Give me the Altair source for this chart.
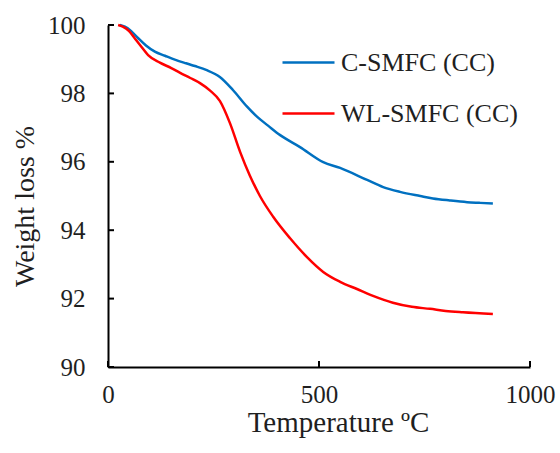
import altair as alt
import pandas as pd

# TGA curves: temperature (°C) vs remaining weight (%)
c_temp = [28, 40, 55, 71, 90, 111, 135, 160, 185, 206, 234, 265, 296, 329, 353, 380, 408,
          455, 510, 550, 614, 652, 692, 740, 770, 810, 851, 880, 912]
c_weight = [100.0, 99.95, 99.82, 99.62, 99.4, 99.22, 99.1, 98.98, 98.88, 98.8, 98.68, 98.48,
            98.1, 97.62, 97.32, 97.05, 96.78, 96.43, 95.99, 95.82, 95.47, 95.26, 95.12, 95.0,
            94.93, 94.87, 94.82, 94.8, 94.78]

w_temp = [24, 35, 50, 64, 80, 95, 123, 150, 171, 195, 218, 242, 265, 289, 313, 336, 360, 391,
          431, 471, 510, 550, 590, 628, 675, 720, 763, 800, 841, 912]
w_weight = [100.0, 99.95, 99.82, 99.6, 99.35, 99.12, 98.9, 98.74, 98.6, 98.45, 98.3, 98.08,
            97.78, 97.13, 96.29, 95.6, 95.0, 94.4, 93.77, 93.22, 92.78, 92.49, 92.28, 92.08,
            91.88, 91.76, 91.7, 91.64, 91.6, 91.55]

series_names = ["C-SMFC (CC)", "WL-SMFC (CC)"]
series_colors = ["#0070C0", "#FF0000"]

x_ticks = [0, 500, 1000]
y_ticks = [90, 92, 94, 96, 98, 100]

FONT = "Liberation Serif"
W, H = 422, 342
TEXT = "#1f1f1f"

df = pd.concat([
    pd.DataFrame({"temp": c_temp, "weight": c_weight, "series": series_names[0], "order": range(len(c_temp))}),
    pd.DataFrame({"temp": w_temp, "weight": w_weight, "series": series_names[1], "order": range(len(w_temp))}),
])

x_scale = alt.Scale(domain=[0, 1000], nice=False)
y_scale = alt.Scale(domain=[90, 100], nice=False, zero=False)

lines = alt.Chart(df).mark_line(strokeWidth=2.5, interpolate="monotone").encode(
    x=alt.X("temp:Q", scale=x_scale,
            axis=alt.Axis(values=x_ticks, format="d", ticks=False, grid=False, labelFlush=False,
                          domainColor="black", domainWidth=2,
                          labelFont=FONT, labelFontSize=25, labelColor=TEXT, labelPadding=15,
                          title="Temperature ºC", titleFont=FONT, titleFontSize=29, titleFontWeight="normal",
                          titleColor=TEXT, titleX=230, titleY=64, titleBaseline="alphabetic",
                          titleAnchor="middle")),
    y=alt.Y("weight:Q", scale=y_scale,
            axis=alt.Axis(values=y_ticks, ticks=False, grid=False, domainColor="black", domainWidth=2,
                          labelFont=FONT, labelFontSize=25, labelColor=TEXT, labelPadding=23,
                          title="Weight loss %", titleFont=FONT, titleFontSize=28, titleFontWeight="normal",
                          titleColor=TEXT, titleX=-75, titleY=181, titleBaseline="alphabetic",
                          titleAngle=-90, titleAnchor="middle")),
    color=alt.Color("series:N", scale=alt.Scale(domain=series_names, range=series_colors),
                    legend=alt.Legend(title=None, orient="none", legendX=173, legendY=10,
                                      symbolType="stroke", symbolSize=2704, symbolStrokeWidth=2.5,
                                      labelFont=FONT, labelFontSize=26, labelColor=TEXT, labelLimit=0,
                                      labelOffset=5, rowPadding=10)),
    detail="series:N",
    order="order:Q",
)

# inward-pointing tick marks along both axes
xt = alt.Chart(pd.DataFrame({"t": x_ticks})).mark_rule(color="black", strokeWidth=2).encode(
    x=alt.X("t:Q", scale=x_scale), y=alt.value(H), y2=alt.value(H - 6))
yt = alt.Chart(pd.DataFrame({"t": y_ticks})).mark_rule(color="black", strokeWidth=2).encode(
    y=alt.Y("t:Q", scale=y_scale), x=alt.value(0), x2=alt.value(6))

chart = alt.layer(lines, xt, yt).properties(
    width=W, height=H,
    autosize=alt.AutoSizeParams(type="none"),
    padding={"left": 108, "top": 25, "right": 30, "bottom": 86},
    background="white",
).configure_view(stroke=None)

chart.save("out.html", embed_options={"renderer": "svg", "actions": False})
